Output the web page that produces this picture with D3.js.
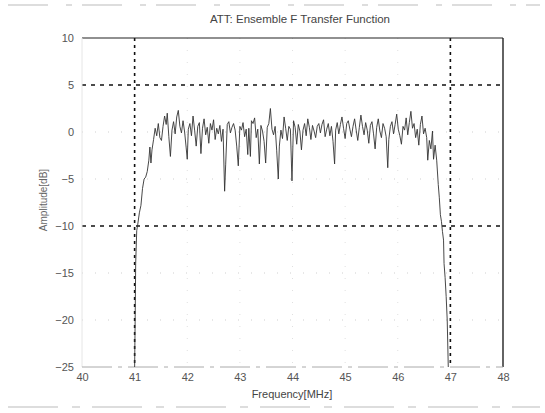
<!DOCTYPE html>
<html>
<head>
<meta charset="utf-8">
<script src="https://cdn.jsdelivr.net/npm/d3@7"></script>
<style>
  html, body { margin: 0; padding: 0; background: #fff; }
  svg { display: block; }
  text { font-family: "Liberation Sans", Arial, sans-serif; }
</style>
</head>
<body>
<svg id="chart" width="545" height="413"></svg>
<script>
// ---- data ----
const titleText = "ATT: Ensemble F Transfer Function";
const xLabelText = "Frequency[MHz]";
const yLabelText = "Amplitude[dB]";
const xTicks = [40, 41, 42, 43, 44, 45, 46, 47, 48];
const yTicks = [10, 5, 0, -5, -10, -15, -20, -25];
const boldXGrid = [41, 47];
const boldYGrid = [5, -10];

const freq = [
  41.00, 41.01, 41.02, 41.04, 41.06, 41.09, 41.12, 41.15, 41.18, 41.21,
  41.24, 41.27, 41.29, 41.31, 41.33, 41.36, 41.39, 41.42, 41.45, 41.48,
  41.51, 41.54, 41.57, 41.60, 41.62, 41.65, 41.68, 41.71, 41.74, 41.77,
  41.80, 41.83, 41.86, 41.89, 41.92, 41.95, 41.98, 42.00, 42.02, 42.05,
  42.08, 42.11, 42.14, 42.17, 42.20, 42.23, 42.26, 42.29, 42.32, 42.35,
  42.38, 42.41, 42.44, 42.47, 42.50, 42.53, 42.56, 42.59, 42.62, 42.65,
  42.68, 42.71, 42.73, 42.76, 42.79, 42.82, 42.85, 42.88, 42.91, 42.94,
  42.97, 43.00, 43.03, 43.06, 43.09, 43.12, 43.15, 43.17, 43.20, 43.22,
  43.25, 43.28, 43.31, 43.34, 43.37, 43.40, 43.43, 43.46, 43.49, 43.52,
  43.55, 43.58, 43.61, 43.64, 43.67, 43.70, 43.73, 43.75, 43.78, 43.81,
  43.84, 43.87, 43.90, 43.93, 43.96, 43.99, 44.02, 44.05, 44.08, 44.11,
  44.14, 44.17, 44.20, 44.23, 44.26, 44.29, 44.32, 44.35, 44.38, 44.41,
  44.44, 44.47, 44.50, 44.53, 44.56, 44.59, 44.62, 44.65, 44.68, 44.71,
  44.74, 44.77, 44.80, 44.82, 44.85, 44.88, 44.91, 44.94, 44.97, 45.00,
  45.03, 45.06, 45.09, 45.12, 45.15, 45.18, 45.21, 45.24, 45.27, 45.30,
  45.33, 45.36, 45.39, 45.42, 45.45, 45.48, 45.51, 45.54, 45.57, 45.60,
  45.63, 45.66, 45.69, 45.72, 45.75, 45.78, 45.81, 45.83, 45.86, 45.89,
  45.92, 45.95, 45.98, 46.01, 46.04, 46.07, 46.10, 46.13, 46.16, 46.19,
  46.22, 46.25, 46.28, 46.31, 46.34, 46.37, 46.40, 46.43, 46.46, 46.49,
  46.52, 46.55, 46.57, 46.60, 46.63, 46.66, 46.68, 46.71, 46.74, 46.77,
  46.79, 46.81, 46.83, 46.85, 46.87, 46.88, 46.90, 46.92, 46.94, 46.96
];
const amp = [
  -25.0, -20.0, -14.0, -10.5, -9.8, -8.6, -7.8, -6.0, -5.0, -4.8,
  -4.2, -3.0, -1.6, -3.3, -1.9, -0.8, 0.4, -0.4, 0.9, -0.6,
  -0.9, 0.6, 1.7, 0.8, 2.0, -0.5, -2.6, 0.2, 1.1, -0.2,
  1.6, 2.3, 0.6, -0.1, 1.2, 0.0, -1.7, -2.9, 0.3, 0.9,
  -0.4, 1.7, 0.2, -1.5, 0.6, 1.0, -2.3, 0.4, 1.4, -0.3,
  0.5, -1.2, 0.9, 0.2, 1.3, -0.8, 0.4, -0.2, 0.7, -1.0,
  0.3, -6.3, -3.5, 0.8, 1.1, -0.1, 0.5, 0.9, 0.2, -1.5,
  -3.6, 0.6, 0.2, 1.0, -0.5, 0.3, -2.4, 0.4, -2.6, 1.2,
  0.9, 1.5, -0.6, 0.3, -3.4, 0.7, 0.1, -1.0, -3.3, 0.5,
  0.9, 2.5, 0.3, -0.3, 0.6, -2.0, -5.0, -1.5, 0.2, -0.7,
  1.6, 0.4, -0.9, 0.6, 0.3, -5.2, 1.2, 0.5, -1.3, 0.8,
  0.1, -1.9, 0.2, 0.9, -0.4, 1.4, 0.5, -0.8, 0.7, 0.1,
  -0.6, 0.6, 0.9, -0.1, 0.8, 1.3, -0.5, 0.3, 0.9, -0.4,
  0.6, -1.0, -3.4, 0.2, 1.0, -0.2, 0.8, 1.6, 0.4, -0.7,
  0.9, 1.2, 0.3, -0.5, 0.6, 1.4, 0.2, -0.9, 0.5, 1.8,
  0.6, -0.3, 1.0, 0.2, -1.2, 0.7, 1.1, -0.2, -1.8, 0.5,
  1.4, 0.1, -0.6, 0.9, 0.4, -0.5, -3.8, -0.8, 0.6, 1.1,
  -0.2, 0.8, 1.9, 0.3, -0.4, -1.3, 0.6, 0.2, 1.5, -0.3,
  1.0, 2.2, 0.4, 0.9, -0.6, 0.3, -1.4, 0.8, 1.7, -0.2,
  0.4, -0.6, -3.0, -0.9, -1.8, 0.1, -2.9, -1.4, -3.0, -5.6,
  -7.0, -8.8, -9.5, -10.6, -11.5, -14.0, -15.5, -17.5, -20.0, -25.0
];

// ---- drawing ----
const svg = d3.select("#chart");
const mL = 82, mR = 503, mT = 38, mB = 367;

const x = d3.scaleLinear().domain([40, 48]).range([mL, mR]);
const y = d3.scaleLinear().domain([-25, 10]).range([mB, mT]);

// scan artefacts: faint dashed strips at the top and bottom of the page
svg.append("line").attr("x1", 8).attr("x2", 540).attr("y1", 5).attr("y2", 5)
  .attr("stroke", "#bbb").attr("stroke-width", 1).attr("stroke-dasharray", "40,18,6,10");
svg.append("line").attr("x1", 8).attr("x2", 540).attr("y1", 407).attr("y2", 407)
  .attr("stroke", "#bbb").attr("stroke-width", 1).attr("stroke-dasharray", "50,14,8,12");

// faint grid
const grid = svg.append("g");
grid.selectAll(".gx").data(xTicks.filter(t => t > 40 && t < 48 && !boldXGrid.includes(t)))
  .enter().append("line")
  .attr("x1", d => x(d)).attr("x2", d => x(d)).attr("y1", mT).attr("y2", mB)
  .attr("stroke", "#e0e0e0").attr("stroke-width", 1).attr("stroke-dasharray", "1,11");
grid.selectAll(".gy").data(yTicks.filter(t => t > -25 && t < 10 && !boldYGrid.includes(t)))
  .enter().append("line")
  .attr("x1", mL).attr("x2", mR).attr("y1", d => y(d)).attr("y2", d => y(d))
  .attr("stroke", "#cfcfcf").attr("stroke-width", 1).attr("stroke-dasharray", "1,12");

// bold dotted grid
grid.selectAll(".bx").data(boldXGrid).enter().append("line")
  .attr("x1", d => x(d)).attr("x2", d => x(d)).attr("y1", mT).attr("y2", mB)
  .attr("stroke", "#111").attr("stroke-width", 1.6).attr("stroke-dasharray", "3,4");
grid.selectAll(".by").data(boldYGrid).enter().append("line")
  .attr("x1", mL).attr("x2", mR).attr("y1", d => y(d)).attr("y2", d => y(d))
  .attr("stroke", "#111").attr("stroke-width", 1.6).attr("stroke-dasharray", "4,5");

// axes box
svg.append("line").attr("x1", mL).attr("x2", mR).attr("y1", mT).attr("y2", mT)
  .attr("stroke", "#222").attr("stroke-width", 1.2);
svg.append("line").attr("x1", mR).attr("x2", mR).attr("y1", mT).attr("y2", mB)
  .attr("stroke", "#222").attr("stroke-width", 1.4);
svg.append("line").attr("x1", mL).attr("x2", mL).attr("y1", mT).attr("y2", mB)
  .attr("stroke", "#e6e6e6").attr("stroke-width", 1);
svg.append("line").attr("x1", mL).attr("x2", mR).attr("y1", mB).attr("y2", mB)
  .attr("stroke", "#aaa").attr("stroke-width", 1).attr("stroke-dasharray", "30,6,4,6");

// axes labels via d3 axes
const xAxis = d3.axisBottom(x).tickValues(xTicks).tickSize(0).tickPadding(6).tickFormat(d3.format("d"));
const gx = svg.append("g").attr("transform", `translate(0,${mB})`).call(xAxis);
gx.select(".domain").remove();
gx.selectAll("text").attr("font-size", 11).attr("fill", "#555");

const yAxis = d3.axisLeft(y).tickValues(yTicks).tickSize(0).tickPadding(8).tickFormat(d3.format("d"));
const gy = svg.append("g").attr("transform", `translate(${mL},0)`).call(yAxis);
gy.select(".domain").remove();
gy.selectAll("text").attr("font-size", 11).attr("fill", "#555");

// data line
const line = d3.line().x((d, i) => x(freq[i])).y((d, i) => y(amp[i]));
svg.append("path").datum(amp)
  .attr("d", line)
  .attr("fill", "none")
  .attr("stroke", "#333")
  .attr("stroke-width", 0.9)
  .attr("stroke-linejoin", "miter");

// title and axis titles
svg.append("text").attr("x", 300).attr("y", 23).attr("text-anchor", "middle")
  .attr("font-size", 11.5).attr("fill", "#444").text(titleText);
svg.append("text").attr("x", 292).attr("y", 398).attr("text-anchor", "middle")
  .attr("font-size", 11).attr("fill", "#444").text(xLabelText);
svg.append("text").attr("transform", "translate(47,200) rotate(-90)").attr("text-anchor", "middle")
  .attr("font-size", 10).attr("fill", "#666").text(yLabelText);
</script>
</body>
</html>
